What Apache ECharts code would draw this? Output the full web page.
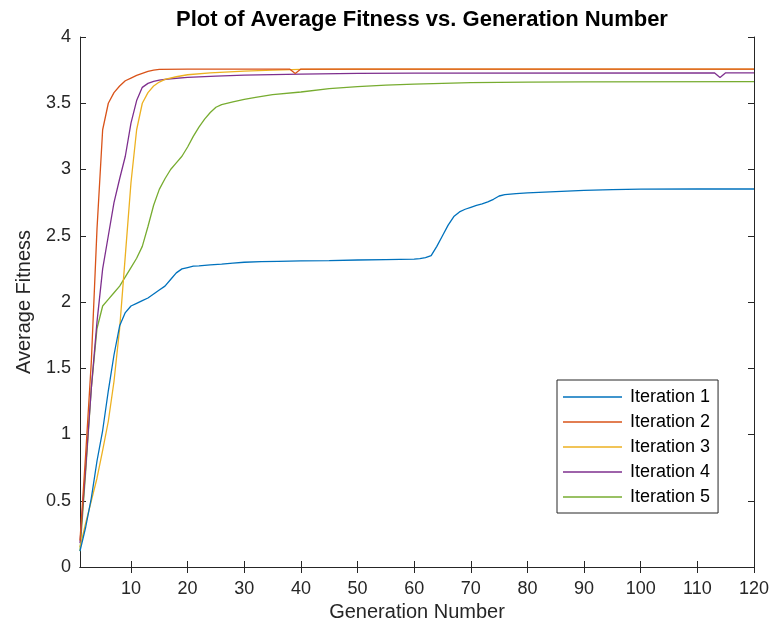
<!DOCTYPE html>
<html>
<head>
<meta charset="utf-8">
<script src="https://cdn.jsdelivr.net/npm/echarts@6/dist/echarts.min.js"></script>
<style>
  html, body { margin: 0; padding: 0; background: #fff; }
  #chart { width: 776px; height: 635px; }
</style>
</head>
<body>
<div id="chart"></div>
<script>
// Average fitness per generation for five GA runs: [generation, fitness]
const iteration1 = [
  [1,0.12],[2,0.3],[3,0.52],[4,0.8],[5,1.03],[6,1.33],[7,1.6],[8,1.82],[9,1.92],[10,1.97],
  [11,1.99],[12,2.01],[13,2.03],[14,2.06],[15,2.09],[16,2.12],[17,2.17],[18,2.22],[19,2.25],[20,2.26],
  [21,2.27],[22,2.273],[24,2.28],[26,2.286],[28,2.293],[30,2.3],[33,2.305],[36,2.307],[40,2.31],
  [45,2.313],[50,2.317],[55,2.32],[60,2.323],[61,2.328],[62,2.335],[63,2.35],[64,2.42],[65,2.5],
  [66,2.58],[67,2.645],[68,2.68],[69,2.7],[70,2.715],[71,2.73],[72,2.74],[73,2.755],[74,2.775],
  [75,2.8],[76,2.81],[78,2.818],[80,2.823],[85,2.833],[90,2.843],[95,2.848],[100,2.852],[110,2.853],[120,2.853]
];
const iteration2 = [
  [1,0.2],[2,0.85],[3,1.55],[4,2.55],[5,3.3],[6,3.5],[7,3.58],[8,3.63],[9,3.67],[10,3.69],
  [11,3.71],[12,3.725],[13,3.74],[14,3.75],[15,3.755],[20,3.757],[30,3.758],[38,3.758],[39,3.725],
  [40,3.758],[120,3.758]
];
const iteration3 = [
  [1,0.15],[2,0.33],[3,0.5],[4,0.67],[5,0.88],[6,1.1],[7,1.4],[8,1.8],[9,2.35],[10,2.9],
  [11,3.3],[12,3.5],[13,3.58],[14,3.63],[15,3.66],[16,3.68],[18,3.7],[20,3.715],[24,3.73],
  [30,3.742],[35,3.75],[40,3.755],[50,3.757],[120,3.758]
];
const iteration4 = [
  [1,0.18],[2,0.75],[3,1.35],[4,1.85],[5,2.25],[6,2.5],[7,2.75],[8,2.93],[9,3.1],[10,3.35],
  [11,3.52],[12,3.62],[13,3.65],[14,3.665],[15,3.675],[17,3.685],[20,3.695],[25,3.705],[30,3.712],
  [40,3.72],[50,3.725],[60,3.728],[113,3.73],[114,3.695],[115,3.73],[120,3.73]
];
const iteration5 = [
  [1,0.12],[2,0.72],[3,1.35],[4,1.8],[5,1.97],[6,2.02],[7,2.07],[8,2.12],[9,2.19],[10,2.26],
  [11,2.33],[12,2.42],[13,2.57],[14,2.73],[15,2.85],[16,2.93],[17,3.0],[18,3.05],[19,3.1],[20,3.17],
  [21,3.25],[22,3.32],[23,3.38],[24,3.43],[25,3.47],[26,3.49],[28,3.51],[30,3.53],[32,3.545],
  [35,3.565],[40,3.585],[45,3.61],[50,3.625],[55,3.637],[60,3.645],[70,3.655],[80,3.66],[90,3.662],[120,3.663]
];

const seriesNames = ['Iteration 1', 'Iteration 2', 'Iteration 3', 'Iteration 4', 'Iteration 5'];
const seriesData = [iteration1, iteration2, iteration3, iteration4, iteration5];
const seriesColors = ['#0072BD', '#D95319', '#EDB120', '#7E2F8E', '#77AC30'];

const xTicks = [10, 20, 30, 40, 50, 60, 70, 80, 90, 100, 110, 120];

const FONT = '"Liberation Sans", Arial, Helvetica, sans-serif';
const AXIS_COLOR = '#262626';

const chart = echarts.init(document.getElementById('chart'), null, { renderer: 'canvas' });

const boxAxisLine = { show: true, lineStyle: { color: AXIS_COLOR, width: 1 } };

chart.setOption({
  animation: false,
  backgroundColor: '#fff',
  title: {
    text: 'Plot of Average Fitness vs. Generation Number',
    left: 417,
    top: 4,
    textAlign: 'center',
    textStyle: { fontFamily: FONT, fontSize: 22, fontWeight: 'bold', color: '#000' }
  },
  grid: { left: 80, right: 22, top: 37, bottom: 68, containLabel: false },
  legend: {
    orient: 'vertical',
    left: 557,
    top: 380,
    padding: [8, 8, 7, 6],
    itemGap: 7,
    itemWidth: 59,
    itemHeight: 1.3,
    icon: 'rect',
    borderColor: AXIS_COLOR,
    borderWidth: 1,
    backgroundColor: '#fff',
    data: seriesNames,
    textStyle: { fontFamily: FONT, fontSize: 18, lineHeight: 18, color: '#000', padding: [0, 0, 0, 3] }
  },
  xAxis: [
    {
      type: 'value', position: 'bottom', min: 1, max: 120,
      name: 'Generation Number', nameLocation: 'middle', nameGap: 29,
      nameTextStyle: { fontFamily: FONT, fontSize: 20, color: AXIS_COLOR },
      axisLine: boxAxisLine,
      axisTick: { show: true, inside: true, length: 6, customValues: xTicks, lineStyle: { color: AXIS_COLOR } },
      axisLabel: { show: true, customValues: xTicks, margin: 13, fontFamily: FONT, fontSize: 18, color: AXIS_COLOR },
      splitLine: { show: false }
    },
    {
      type: 'value', position: 'top', min: 1, max: 120,
      axisLine: boxAxisLine,
      axisTick: { show: true, inside: true, length: 6, customValues: xTicks, lineStyle: { color: AXIS_COLOR } },
      axisLabel: { show: false },
      splitLine: { show: false }
    }
  ],
  yAxis: [
    {
      type: 'value', position: 'left', min: 0, max: 4, interval: 0.5,
      name: 'Average Fitness', nameLocation: 'middle', nameGap: 46,
      nameTextStyle: { fontFamily: FONT, fontSize: 20, color: AXIS_COLOR },
      axisLine: boxAxisLine,
      axisTick: { show: true, inside: true, length: 6, lineStyle: { color: AXIS_COLOR } },
      axisLabel: { show: true, margin: 9, fontFamily: FONT, fontSize: 18, color: AXIS_COLOR },
      splitLine: { show: false }
    },
    {
      type: 'value', position: 'right', min: 0, max: 4, interval: 0.5,
      axisLine: boxAxisLine,
      axisTick: { show: true, inside: true, length: 6, lineStyle: { color: AXIS_COLOR } },
      axisLabel: { show: false },
      splitLine: { show: false }
    }
  ],
  series: seriesNames.map((name, i) => ({
    name: name,
    type: 'line',
    xAxisIndex: 0,
    yAxisIndex: 0,
    data: seriesData[i],
    symbol: 'none',
    smooth: false,
    color: seriesColors[i],
    lineStyle: { width: 1.3, color: seriesColors[i] },
    z: 2 + (4 - i)
  }))
});
</script>
</body>
</html>
